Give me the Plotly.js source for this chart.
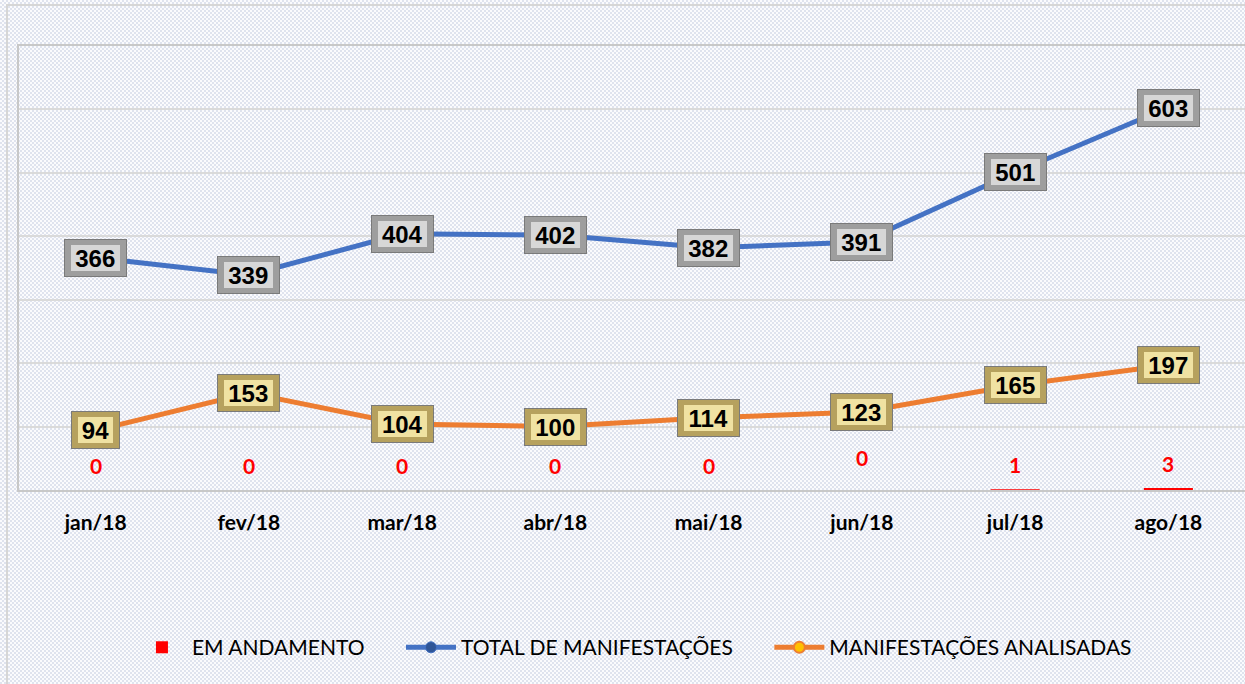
<!DOCTYPE html>
<html>
<head>
<meta charset="utf-8">
<script src="https://cdn.plot.ly/plotly-3.0.1.min.js"></script>
<style>
  html, body { margin:0; padding:0; width:1245px; height:684px; overflow:hidden; }
  body {
    background-color:#f3f4f8;
    background-image: repeating-conic-gradient(#dfe3ee 0 25%, #fbfbfd 0 50%);
    background-size: 4px 4px;
    position:relative;
  }
  #frame { position:absolute; left:6px; top:4px; width:1260px; height:700px; border:2px solid #d6d6d6; pointer-events:none; }
  #chart { position:absolute; left:0; top:0; width:1245px; height:684px; }
</style>
</head>
<body>
<div id="frame"></div>
<div id="chart"></div>
<script>
const categories = ["jan/18","fev/18","mar/18","abr/18","mai/18","jun/18","jul/18","ago/18"];
const emAndamento = [0,0,0,0,0,0,1,3];
const totalManifestacoes = [366,339,404,402,382,391,501,603];
const manifestacoesAnalisadas = [94,153,104,100,114,123,165,197];
const seriesNames = ["EM ANDAMENTO","TOTAL DE MANIFESTAÇÕES","MANIFESTAÇÕES ANALISADAS"];

const gap = '\u2003\u2003';
const traces = [
  {type:'bar', name:seriesNames[0] + gap, x:categories, y:emAndamento, width:0.32,
   marker:{color:'#ff0000'}, hoverinfo:'skip'},
  {type:'scatter', mode:'lines+markers', name:seriesNames[1] + gap, x:categories, y:totalManifestacoes,
   line:{color:'#4472c4', width:5}, marker:{size:11, color:'#2f5597', line:{color:'#4472c4', width:1}}},
  {type:'scatter', mode:'lines+markers', name:seriesNames[2], x:categories, y:manifestacoesAnalisadas,
   line:{color:'#ed7d31', width:5}, marker:{size:11, color:'#ffc000', line:{color:'#ed7d31', width:2}}}
];

const annotations = [];
function boxLabel(x, v, edge, face) {
  const s = String(v);
  const w = s.length * 13.5;
  annotations.push({x:x, y:v, xref:'x', yref:'y', text:s, showarrow:false,
    font:{family:'Liberation Sans, Arial, sans-serif', size:24, color:'#000'},
    bgcolor:edge, bordercolor:'#7a7a7a', borderwidth:1, borderpad:1,
    width:w+18, height:34});
  annotations.push({x:x, y:v, xref:'x', yref:'y', text:'<b>'+s+'</b>', showarrow:false,
    font:{family:'Liberation Sans, Arial, sans-serif', size:24, color:'#000'},
    bgcolor:face, borderwidth:0, borderpad:0,
    width:w+8, height:26});
}
categories.forEach((c,i)=>{
  boxLabel(c, totalManifestacoes[i], '#9e9e9e', '#d7d7d7');
  boxLabel(c, manifestacoesAnalisadas[i], '#b6a15e', '#f0e2a2');
  annotations.push({x:c, y:emAndamento[i], xref:'x', yref:'y', text:'<b>'+emAndamento[i]+'</b>', showarrow:false,
    font:{family:'Lato, Calibri, sans-serif', size:21, color:'#ff0000', weight:'bold'},
    yshift: (i===5 ? 33 : 25)});
});

const layout = {
  width:1245, height:684,
  margin:{l:19, r:0, t:46, b:194},
  paper_bgcolor:'rgba(0,0,0,0)', plot_bgcolor:'rgba(0,0,0,0)',
  showlegend:true,
  legend:{orientation:'h', x:0.502, xanchor:'center', y:-0.355, yanchor:'middle',
    font:{family:'Lato, Calibri, sans-serif', size:21, color:'#000'}, itemwidth:50, traceorder:'normal'},
  xaxis:{type:'category', showgrid:false, showline:true, linecolor:'#c8c8c8', linewidth:2, mirror:true,
    ticks:'', ticklabelstandoff:13,
    tickfont:{family:'Lato, Calibri, sans-serif', size:21, color:'#000', weight:'bold'}},
  yaxis:{range:[0,700], dtick:100, showticklabels:false, showgrid:true, gridcolor:'#dadada', gridwidth:2,
    showline:true, linecolor:'#c8c8c8', linewidth:2, zeroline:false, ticks:''},
  annotations:annotations,
  hovermode:false,
  bargap:0.68
};
Plotly.newPlot('chart', traces, layout, {displayModeBar:false, staticPlot:true});
</script>
</body>
</html>
